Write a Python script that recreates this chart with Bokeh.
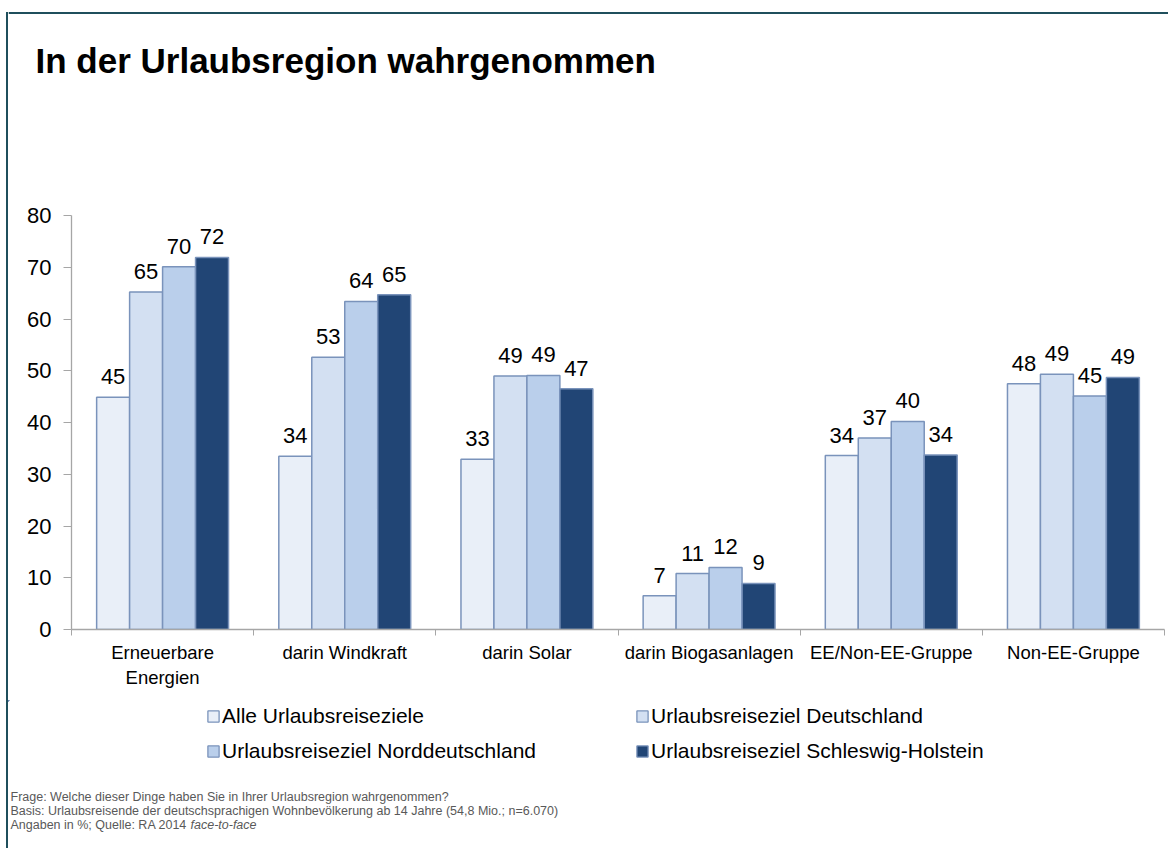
from bokeh.plotting import figure
from bokeh.models import (Range1d, FixedTicker, LabelSet, ColumnDataSource,
                          Legend, LegendItem)
from bokeh.layouts import row, column
from bokeh.core.properties import value
from bokeh.embed import file_html
from bokeh.resources import INLINE

# ---------------- data ----------------
categories = ["Erneuerbare\nEnergien", "darin Windkraft", "darin Solar",
              "darin Biogasanlagen", "EE/Non-EE-Gruppe", "Non-EE-Gruppe"]
series_names = ["Alle Urlaubsreiseziele", "Urlaubsreiseziel Deutschland",
                "Urlaubsreiseziel Norddeutschland", "Urlaubsreiseziel Schleswig-Holstein"]
alle = [44.9, 33.5, 32.9, 6.5, 33.6, 47.5]
deutschland = [65.2, 52.6, 49.0, 10.8, 37.0, 49.3]
norddeutschland = [70.1, 63.4, 49.1, 12.0, 40.2, 45.1]
schleswig_holstein = [71.9, 64.7, 46.5, 8.9, 33.7, 48.7]
labels_alle = [45, 34, 33, 7, 34, 48]
labels_deutschland = [65, 53, 49, 11, 37, 49]
labels_norddeutschland = [70, 64, 49, 12, 40, 45]
labels_schleswig_holstein = [72, 65, 47, 9, 34, 49]
y_ticks = [0, 10, 20, 30, 40, 50, 60, 70, 80]

title_text = "In der Urlaubsregion wahrgenommen"
footer_lines = ["Frage: Welche dieser Dinge haben Sie in Ihrer Urlaubsregion wahrgenommen?",
                "Basis: Urlaubsreisende der deutschsprachigen Wohnbevölkerung ab 14 Jahre (54,8 Mio.; n=6.070)",
                "Angaben in %; Quelle: RA 2014 "]
footer_italic = "face-to-face"

# ---------------- style ----------------
FONT = "Liberation Sans"
colors = ["#E9EFF8", "#D3E0F2", "#BACFEB", "#214575"]
outline = "#7A93BB"
teal = "#1F4F5C"
W, H = 1168, 848
STRIP = 8            # width of left strip holding the border line
TOP_H = 200          # height of title area
FL, FR, FT, FB = 71, 1164, 215, 629  # frame edges in canvas px
MAIN_BOTTOM = 700
BOT_H = H - MAIN_BOTTOM


def blank(width, height, xr, yr):
    f = figure(width=width, height=height, output_backend="svg", toolbar_location=None,
               x_range=xr, y_range=yr, x_axis_type=None, y_axis_type=None,
               min_border=0, min_border_left=0, min_border_right=0,
               min_border_top=0, min_border_bottom=0)
    f.frame_align = False
    f.outline_line_color = None
    f.grid.visible = False
    f.background_fill_color = "white"
    f.border_fill_color = "white"
    return f


# left strip with the border line
strip = blank(STRIP, H, Range1d(0, STRIP), Range1d(H, 0))
strip.segment(x0=[6.5, 5.5], y0=[11.5, 12.5], x1=[6.5, STRIP], y1=[H, 12.5],
              line_color=teal, line_width=2)

# title area
top = blank(W - STRIP, TOP_H, Range1d(STRIP, W), Range1d(TOP_H, 0))
top.segment(x0=[STRIP], y0=[12.5], x1=[W], y1=[12.5], line_color=teal, line_width=2)
top.text(x=[35], y=[60], text=[title_text], text_font=value(FONT),
         text_font_size=value("35px"), text_font_style="bold", text_color="black",
         text_baseline="middle", text_align="left")

# main chart
main_h = MAIN_BOTTOM - TOP_H
p = figure(width=W - STRIP, height=main_h, output_backend="svg", toolbar_location=None,
           x_range=Range1d(0, len(categories)), y_range=Range1d(0, 80),
           min_border_left=FL - STRIP, min_border_right=W - FR,
           min_border_top=FT - TOP_H, min_border_bottom=MAIN_BOTTOM - FB)
p.frame_align = False
p.outline_line_color = None
p.grid.visible = False
p.background_fill_color = "white"
p.border_fill_color = "white"

p.yaxis.ticker = FixedTicker(ticks=y_ticks, minor_ticks=[])
p.yaxis.axis_line_color = "#A6A6A6"
p.yaxis.axis_line_width = 1.3
p.yaxis.major_tick_line_color = "#A6A6A6"
p.yaxis.major_tick_out = 8
p.yaxis.major_tick_in = 0
p.yaxis.major_label_standoff = 12
p.yaxis.major_label_text_font = FONT
p.yaxis.major_label_text_font_size = "22px"
p.yaxis.major_label_text_color = "black"

centers = [i + 0.5 for i in range(len(categories))]
p.xaxis.ticker = FixedTicker(ticks=centers, minor_ticks=list(range(len(categories) + 1)))
p.xaxis.major_label_overrides = {c: categories[i] for i, c in enumerate(centers)}
p.xaxis.axis_line_color = "#A6A6A6"
p.xaxis.axis_line_width = 1.3
p.xaxis.major_tick_out = 0
p.xaxis.major_tick_in = 0
p.xaxis.minor_tick_line_color = "#A6A6A6"
p.xaxis.minor_tick_out = 6
p.xaxis.minor_tick_in = 0
p.xaxis.major_label_standoff = 6
p.xaxis.major_label_text_font = FONT
p.xaxis.major_label_text_font_size = "18.5px"
p.xaxis.major_label_text_color = "black"

bw = 0.181
all_series = [alle, deutschland, norddeutschland, schleswig_holstein]
all_labels = [labels_alle, labels_deutschland, labels_norddeutschland, labels_schleswig_holstein]
sources = []
for j, (vals, labs) in enumerate(zip(all_series, all_labels)):
    xs = [c + (j - 1.5) * bw for c in centers]
    src = ColumnDataSource(dict(x=xs, top=vals, lab=[str(v) for v in labs]))
    sources.append(src)
    p.vbar(x="x", top="top", width=bw, source=src, fill_color=colors[j],
           line_color=outline, line_width=1.5)
    p.add_layout(LabelSet(x="x", y="top", text="lab", source=src, y_offset=13,
                          text_align="center", text_baseline="alphabetic",
                          text_font=value(FONT), text_font_size=value("22px"),
                          text_color="black"))

# bottom area: legend + footer
bot = blank(W - STRIP, BOT_H, Range1d(STRIP, W), Range1d(H, MAIN_BOTTOM))
gh = 14
leg_pos = [(206, 714), (635, 714), (206, 749), (635, 749)]  # canvas top-left of swatch
for j in range(4):
    # same series source; its bars fall outside this panel's ranges, only the legend swatch shows
    r = bot.vbar(x="x", top="top", width=bw, source=sources[j], fill_color=colors[j],
                 line_color=outline, line_width=1.3)
    lx, ly = leg_pos[j]
    leg = Legend(items=[LegendItem(label=series_names[j], renderers=[r])],
                 location=(lx - STRIP, H - (ly + gh)),
                 glyph_width=gh, glyph_height=gh, label_height=gh, label_standoff=2,
                 padding=0, margin=0, spacing=0,
                 border_line_color=None, background_fill_alpha=0,
                 label_text_font=FONT, label_text_font_size="21px", label_text_color="black")
    bot.add_layout(leg)

bot.text(x=[10, 10, 10], y=[796, 810, 824], text=footer_lines, text_font=value(FONT),
         text_font_size=value("12.5px"), text_color="#595959",
         text_baseline="middle", text_align="left")
bot.text(x=[190], y=[824], text=[footer_italic], text_font=value(FONT),
         text_font_size=value("12.5px"), text_font_style="italic", text_color="#595959",
         text_baseline="middle", text_align="left")

layout = row(strip, column(top, p, bot, spacing=0), spacing=0)
open("out.html", "w").write(file_html(layout, INLINE))
